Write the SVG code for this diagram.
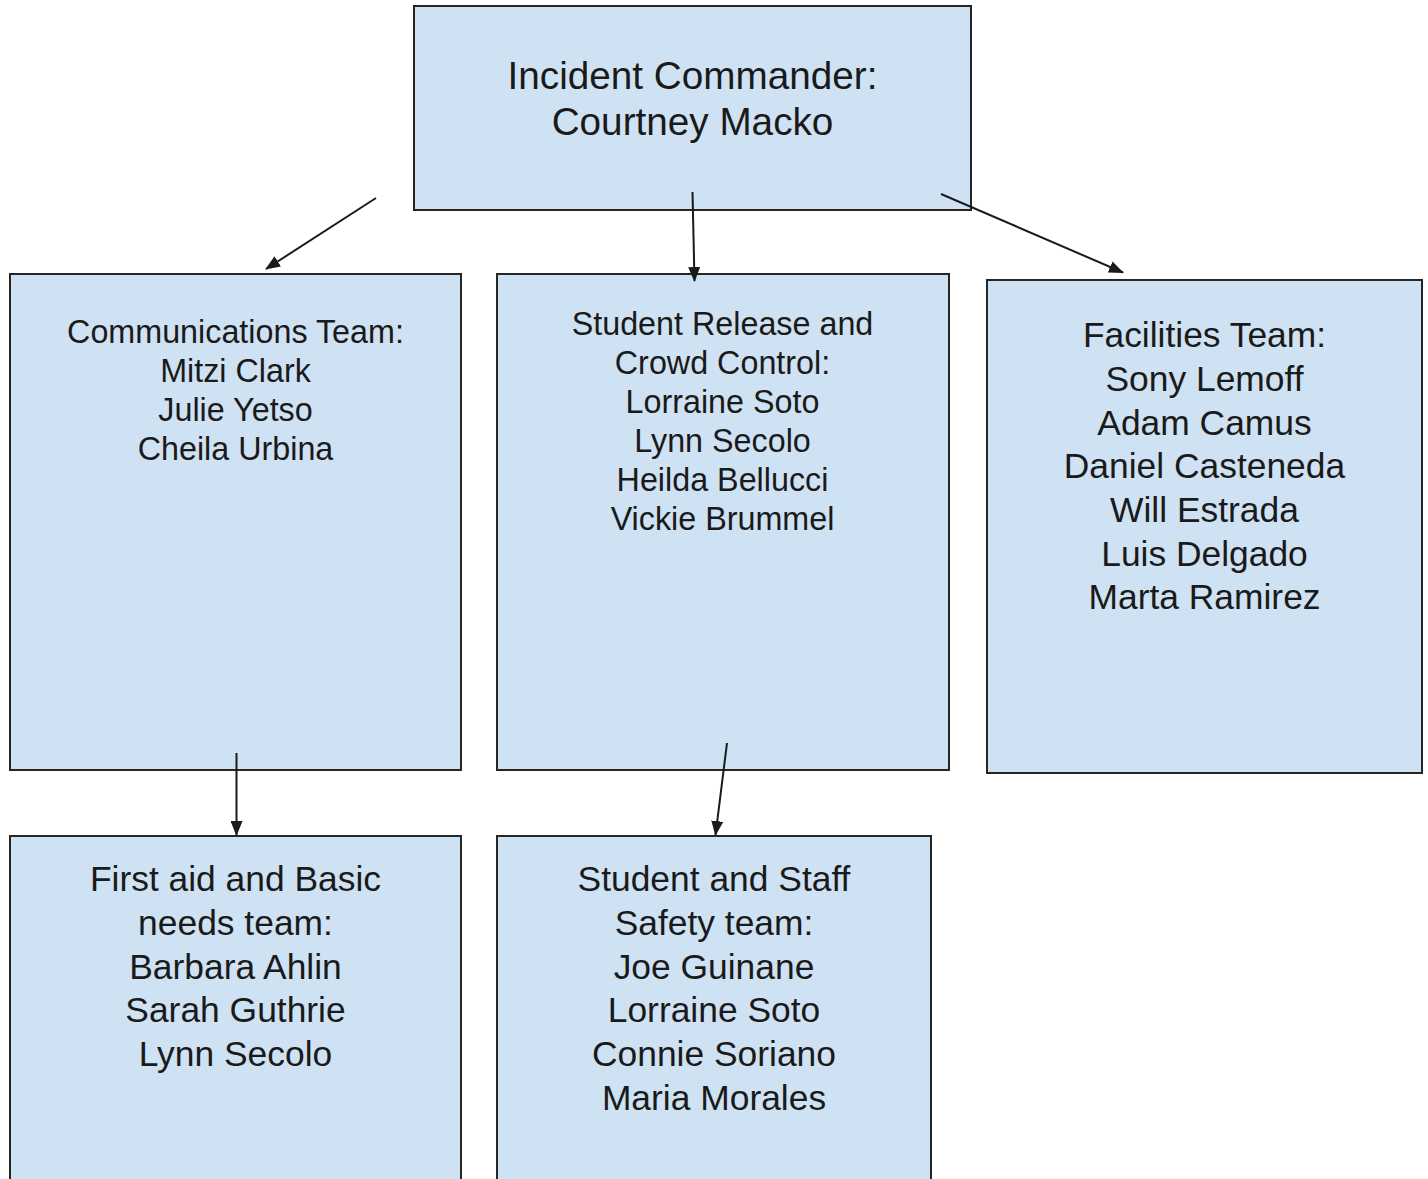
<svg xmlns="http://www.w3.org/2000/svg" width="1428" height="1179" viewBox="0 0 1428 1179">
  <style>
    .box { fill: #cfe2f3; stroke: #262626; stroke-width: 2; }
    .t { font-family: "Liberation Sans", Arial, sans-serif; fill: #1a1a1a; text-anchor: middle; }
    .t38 { font-size: 38.7px; }
    .t32 { font-size: 32.3px; }
    .t35 { font-size: 35.4px; }
    .conn { stroke: #1a1a1a; stroke-width: 2; fill: none; marker-end: url(#arrow); }
  </style>
  <defs>
    <marker id="arrow" markerUnits="userSpaceOnUse" markerWidth="15" markerHeight="12" refX="14" refY="6" orient="auto">
      <path d="M0,0 L15,6 L0,12 z" fill="#1a1a1a"/>
    </marker>
  </defs>
  <rect width="1428" height="1179" fill="#ffffff"/>

  <g id="incident-commander">
    <rect class="box" x="414" y="6" width="557" height="204"/>
    <text class="t t38" x="692.5" y="88.5">Incident Commander:</text>
    <text class="t t38" x="692.5" y="134.5">Courtney Macko</text>
  </g>

  <g id="communications-team">
    <rect class="box" x="10" y="274" width="451" height="496"/>
    <text class="t t32" x="235.5" y="343">Communications Team:</text>
    <text class="t t32" x="235.5" y="382">Mitzi Clark</text>
    <text class="t t32" x="235.5" y="421">Julie Yetso</text>
    <text class="t t32" x="235.5" y="460">Cheila Urbina</text>
  </g>

  <g id="student-release">
    <rect class="box" x="497" y="274" width="452" height="496"/>
    <text class="t t32" x="722.5" y="335">Student Release and</text>
    <text class="t t32" x="722.5" y="374">Crowd Control:</text>
    <text class="t t32" x="722.5" y="413">Lorraine Soto</text>
    <text class="t t32" x="722.5" y="452">Lynn Secolo</text>
    <text class="t t32" x="722.5" y="491">Heilda Bellucci</text>
    <text class="t t32" x="722.5" y="530">Vickie Brummel</text>
  </g>

  <g id="facilities-team">
    <rect class="box" x="987" y="280" width="435" height="493"/>
    <text class="t t35" x="1204.5" y="347">Facilities Team:</text>
    <text class="t t35" x="1204.5" y="391">Sony Lemoff</text>
    <text class="t t35" x="1204.5" y="434.5">Adam Camus</text>
    <text class="t t35" x="1204.5" y="478">Daniel Casteneda</text>
    <text class="t t35" x="1204.5" y="522">Will Estrada</text>
    <text class="t t35" x="1204.5" y="565.5">Luis Delgado</text>
    <text class="t t35" x="1204.5" y="609">Marta Ramirez</text>
  </g>

  <g id="first-aid-team">
    <rect class="box" x="10" y="836" width="451" height="360"/>
    <text class="t t35" x="235.5" y="891">First aid and Basic</text>
    <text class="t t35" x="235.5" y="935">needs team:</text>
    <text class="t t35" x="235.5" y="978.5">Barbara Ahlin</text>
    <text class="t t35" x="235.5" y="1022">Sarah Guthrie</text>
    <text class="t t35" x="235.5" y="1066">Lynn Secolo</text>
  </g>

  <g id="safety-team">
    <rect class="box" x="497" y="836" width="434" height="360"/>
    <text class="t t35" x="714" y="891">Student and Staff</text>
    <text class="t t35" x="714" y="935">Safety team:</text>
    <text class="t t35" x="714" y="978.5">Joe Guinane</text>
    <text class="t t35" x="714" y="1022">Lorraine Soto</text>
    <text class="t t35" x="714" y="1066">Connie Soriano</text>
    <text class="t t35" x="714" y="1109.5">Maria Morales</text>
  </g>

  <g id="connectors">
    <line class="conn" x1="376" y1="198" x2="266" y2="269"/>
    <line class="conn" x1="692.5" y1="192" x2="694.5" y2="281"/>
    <line class="conn" x1="941" y1="194" x2="1123" y2="272.5"/>
    <line class="conn" x1="236.5" y1="753" x2="236.5" y2="835"/>
    <line class="conn" x1="727" y1="743" x2="715.5" y2="835"/>
  </g>
</svg>
